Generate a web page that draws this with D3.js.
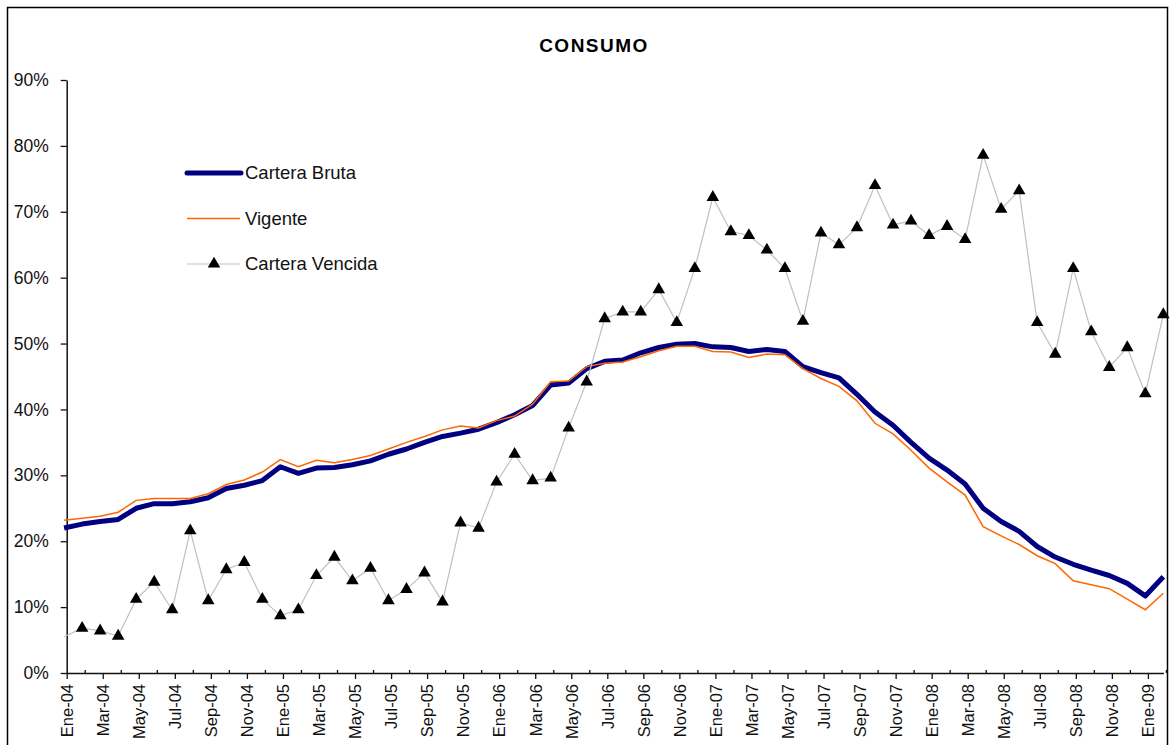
<!DOCTYPE html>
<html>
<head>
<meta charset="utf-8">
<script src="https://cdn.jsdelivr.net/npm/d3@7"></script>
<style>
  html, body { margin: 0; padding: 0; background: #fff; }
  svg { display: block; font-family: "Liberation Sans", Arial, sans-serif; }
</style>
</head>
<body>
<div id="chart"></div>
<script>
const months = [
  "Ene-04","Feb-04","Mar-04","Abr-04","May-04","Jun-04","Jul-04","Ago-04","Sep-04","Oct-04","Nov-04","Dic-04",
  "Ene-05","Feb-05","Mar-05","Abr-05","May-05","Jun-05","Jul-05","Ago-05","Sep-05","Oct-05","Nov-05","Dic-05",
  "Ene-06","Feb-06","Mar-06","Abr-06","May-06","Jun-06","Jul-06","Ago-06","Sep-06","Oct-06","Nov-06","Dic-06",
  "Ene-07","Feb-07","Mar-07","Abr-07","May-07","Jun-07","Jul-07","Ago-07","Sep-07","Oct-07","Nov-07","Dic-07",
  "Ene-08","Feb-08","Mar-08","Abr-08","May-08","Jun-08","Jul-08","Ago-08","Sep-08","Oct-08","Nov-08","Dic-08",
  "Ene-09","Feb-09"
];

// % values
const carteraBruta = [
  22.0, 22.6, 23.0, 23.3, 25.0, 25.7, 25.7, 26.0, 26.6, 28.0, 28.5, 29.2,
  31.3, 30.3, 31.1, 31.2, 31.6, 32.2, 33.2, 34.0, 35.0, 35.9, 36.4, 37.0,
  38.0, 39.2, 40.6, 43.7, 44.0, 46.2, 47.3, 47.5, 48.6, 49.4, 49.9, 50.0,
  49.5, 49.4, 48.8, 49.1, 48.8, 46.5, 45.6, 44.8, 42.3, 39.6, 37.6, 35.0,
  32.6, 30.8, 28.7, 25.0, 23.0, 21.5, 19.2, 17.6, 16.5, 15.6, 14.8, 13.6,
  11.7, 14.6
];

const vigente = [
  23.2, 23.5, 23.8, 24.4, 26.2, 26.5, 26.5, 26.5, 27.2, 28.6, 29.3, 30.5,
  32.4, 31.3, 32.3, 31.9, 32.4, 33.0, 34.0, 35.0, 35.9, 36.9, 37.5, 37.2,
  38.3, 39.0, 40.8, 44.2, 44.3, 46.5, 47.0, 47.2, 48.0, 48.9, 49.6, 49.6,
  48.8, 48.7, 47.9, 48.4, 48.3, 46.2, 44.7, 43.5, 41.3, 37.9, 36.3, 33.8,
  31.1, 29.0, 27.0, 22.2, 20.8, 19.5, 17.8, 16.6, 14.0, 13.4, 12.8, 11.2,
  9.6, 12.1
];

const carteraVencida = [
  5.5, 6.8, 6.4, 5.6, 11.2, 13.8, 9.6, 21.6, 11.0, 15.7, 16.8, 11.2,
  8.7, 9.6, 14.8, 17.6, 14.0, 15.9, 11.0, 12.7, 15.2, 10.8, 22.8, 22.0,
  29.0, 33.2, 29.2, 29.6, 37.2, 44.2, 53.8, 54.8, 54.8, 58.2, 53.2, 61.4,
  72.2, 67.0, 66.4, 64.2, 61.4, 53.4, 66.8, 65.0, 67.6, 74.0, 68.0, 68.6,
  66.4, 67.8, 65.8, 78.6, 70.4, 73.2, 53.2, 48.4, 61.4, 51.8, 46.4, 49.4,
  42.4, 54.4
];

const yTicks = [0, 10, 20, 30, 40, 50, 60, 70, 80, 90];
const seriesNames = ["Cartera Bruta", "Vigente", "Cartera Vencida"];

const width = 1170, height = 745;

const svg = d3.select("#chart").append("svg")
  .attr("width", width)
  .attr("height", height);

// outer frame
svg.append("rect")
  .attr("x", 7.5).attr("y", 7.5)
  .attr("width", 1160).attr("height", 780)
  .attr("fill", "none")
  .attr("stroke", "#000")
  .attr("stroke-width", 1.5);

svg.append("text")
  .attr("x", 594).attr("y", 52)
  .attr("text-anchor", "middle")
  .attr("font-size", 19)
  .attr("font-weight", "bold")
  .attr("letter-spacing", 1.5)
  .text("CONSUMO");

const x = d3.scaleLinear()
  .domain([0, months.length - 1])
  .range([66.7, 66.7 + 18.02 * (months.length - 1)]);

const y = d3.scaleLinear()
  .domain([0, 90])
  .range([673, 80]);

// y axis
const yAxis = svg.append("g")
  .attr("transform", "translate(66.7,0)")
  .call(d3.axisLeft(y).tickValues(yTicks).tickSize(6).tickSizeOuter(0).tickFormat(d => d + "%"));
yAxis.select(".domain").attr("stroke", "#111").attr("stroke-width", 1.5);
yAxis.selectAll(".tick line").attr("stroke", "#111").attr("stroke-width", 1.3);
yAxis.selectAll(".tick text")
  .attr("x", -18)
  .attr("font-size", 17.5)
  .attr("font-family", "Liberation Sans, Arial, sans-serif")
  .attr("fill", "#111");

// x axis: minor ticks inside, major (labelled) ticks outside
const minorIdx = months.map((m, i) => i).filter(i => i % 2 === 1);
const majorIdx = months.map((m, i) => i).filter(i => i % 2 === 0);

const xMinor = svg.append("g")
  .attr("transform", `translate(0,${y(0)})`)
  .call(d3.axisTop(x).tickValues(minorIdx).tickSize(3).tickSizeOuter(0).tickFormat(""));
xMinor.select(".domain").remove();
xMinor.selectAll(".tick line").attr("stroke", "#111").attr("stroke-width", 1.3);

const xAxis = svg.append("g")
  .attr("transform", `translate(0,${y(0)})`)
  .call(d3.axisBottom(x).tickValues(majorIdx).tickSize(6).tickSizeOuter(0).tickFormat(i => months[i]));
xAxis.select(".domain").attr("stroke", "#111").attr("stroke-width", 1.5)
  .attr("d", `M${x(0)},0.5H${x(months.length - 1) - 2}`);
xAxis.selectAll(".tick line").attr("stroke", "#111").attr("stroke-width", 1.3);
xAxis.selectAll(".tick text")
  .attr("font-size", 16.5)
  .attr("font-family", "Liberation Sans, Arial, sans-serif")
  .attr("fill", "#111")
  .attr("text-anchor", "end")
  .attr("transform", "translate(0,11) rotate(-90)")
  .attr("x", 0)
  .attr("y", 0)
  .attr("dx", 0)
  .attr("dy", "0.35em");

// data marks (drawn slightly left of the ticks, as in the picture)
const plot = svg.append("g").attr("transform", "translate(-2.6,0)");

const line = d3.line()
  .x((d, i) => x(i))
  .y(d => y(d));

plot.append("path")
  .datum(carteraBruta)
  .attr("fill", "none")
  .attr("stroke", "#000080")
  .attr("stroke-width", 5)
  .attr("stroke-linejoin", "round")
  .attr("d", line);

plot.append("path")
  .datum(vigente)
  .attr("fill", "none")
  .attr("stroke", "#ff6600")
  .attr("stroke-width", 1.5)
  .attr("d", line);

plot.append("path")
  .datum(carteraVencida)
  .attr("fill", "none")
  .attr("stroke", "#c0c0c0")
  .attr("stroke-width", 1.2)
  .attr("d", line);

const tri = d3.symbol().type(d3.symbolTriangle).size(68);

// the first point shows no marker in the reference
plot.selectAll(".tri")
  .data(carteraVencida.map((v, i) => ({ v, i })).filter(d => d.i > 0))
  .enter().append("path")
  .attr("class", "tri")
  .attr("transform", d => `translate(${x(d.i)},${y(d.v)})`)
  .attr("d", tri)
  .attr("fill", "#000");

// legend
const legend = svg.append("g").attr("transform", "translate(187,173)");
const legendY = d3.scalePoint().domain(seriesNames).range([0, 91]);

legend.append("line")
  .attr("x1", 0).attr("x2", 54)
  .attr("y1", legendY("Cartera Bruta")).attr("y2", legendY("Cartera Bruta"))
  .attr("stroke", "#000080").attr("stroke-width", 5).attr("stroke-linecap", "round");
legend.append("line")
  .attr("x1", 0).attr("x2", 53)
  .attr("y1", legendY("Vigente")).attr("y2", legendY("Vigente"))
  .attr("stroke", "#ff6600").attr("stroke-width", 1.5);
legend.append("line")
  .attr("x1", 0).attr("x2", 53)
  .attr("y1", legendY("Cartera Vencida")).attr("y2", legendY("Cartera Vencida"))
  .attr("stroke", "#c0c0c0").attr("stroke-width", 1.2);
legend.append("path")
  .attr("transform", `translate(27,${legendY("Cartera Vencida")})`)
  .attr("d", tri)
  .attr("fill", "#000");

legend.selectAll(".ltext")
  .data(seriesNames)
  .enter().append("text")
  .attr("class", "ltext")
  .attr("x", 58)
  .attr("y", d => legendY(d))
  .attr("dy", "0.35em")
  .attr("font-size", 18.5)
  .attr("fill", "#111")
  .text(d => d);
</script>
</body>
</html>
